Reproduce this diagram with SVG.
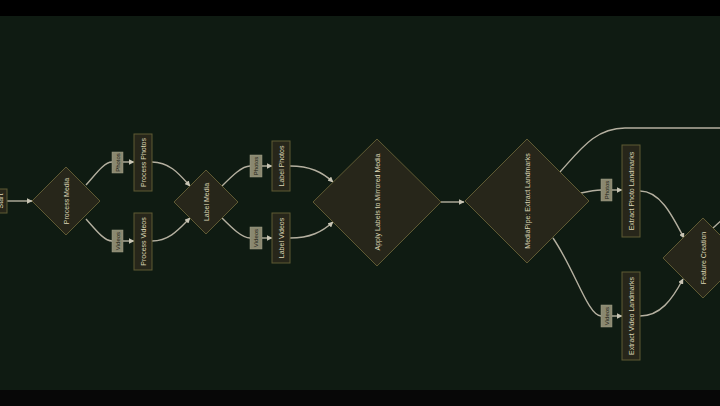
<svg xmlns="http://www.w3.org/2000/svg" width="720" height="406" viewBox="0 0 720 406">
<defs>
<style>
.node{fill:#27261a;stroke:#5f5a33;stroke-width:1}
.nt{font-family:"Liberation Sans",Arial,sans-serif;font-size:7px;fill:#ddd6b6;text-anchor:middle;dominant-baseline:central}
.lb{fill:#8a8870;stroke:#a09e86;stroke-width:0.5}
.lt{font-family:"Liberation Sans",Arial,sans-serif;font-size:6px;fill:#1c1c14;text-anchor:middle;dominant-baseline:central}
.edge{fill:none;stroke:#b5b0a0;stroke-width:1.4}
</style>
<marker id="arr" viewBox="0 0 10 10" refX="9" refY="5" markerWidth="4" markerHeight="4" orient="auto"><path d="M0,0L10,5L0,10z" fill="#c8c4b4"/></marker>
</defs>
<rect width="720" height="406" fill="#0f1b12"/>
<rect width="720" height="16" fill="#000"/>
<rect y="390" width="720" height="16" fill="#070707"/>

<g id="connectors">
<path class="edge" d="M7,201 L32,201" marker-end="url(#arr)"/>
<path class="edge" d="M86,185 C95,175 104,162 112,162"/>
<path class="edge" d="M123,162 L134,162" marker-end="url(#arr)"/>
<path class="edge" d="M86,219 C95,229 104,241 112,241"/>
<path class="edge" d="M123,241 L134,241" marker-end="url(#arr)"/>
<path class="edge" d="M152,162 C170,162 180,175 190,186" marker-end="url(#arr)"/>
<path class="edge" d="M152,241 C170,241 180,228 190,218" marker-end="url(#arr)"/>
<path class="edge" d="M222,186 C232,176 242,166 250,166"/>
<path class="edge" d="M262,166 L272,166" marker-end="url(#arr)"/>
<path class="edge" d="M222,218 C232,228 242,238 250,238"/>
<path class="edge" d="M262,238 L272,238" marker-end="url(#arr)"/>
<path class="edge" d="M290,166 C310,166 322,172 333,182" marker-end="url(#arr)"/>
<path class="edge" d="M290,238 C310,238 322,232 333,222" marker-end="url(#arr)"/>
<path class="edge" d="M440,202 L464,202" marker-end="url(#arr)"/>
<path class="edge" d="M560,172 C580,150 595,128 625,128 L722,128"/>
<path class="edge" d="M581,193 C590,191 595,190 601,190"/>
<path class="edge" d="M612,190 L622,190" marker-end="url(#arr)"/>
<path class="edge" d="M553,238 C575,270 588,316 601,316"/>
<path class="edge" d="M612,316 L622,316" marker-end="url(#arr)"/>
<path class="edge" d="M640,191 C660,191 672,215 684,238" marker-end="url(#arr)"/>
<path class="edge" d="M640,316 C660,316 672,300 683,279" marker-end="url(#arr)"/>
<path class="edge" d="M713,228 L724,218"/>
</g>

<g id="labels">
<g><rect class="lb" x="112" y="152" width="11" height="21"/><text class="lt" transform="translate(117.5,162.5) rotate(-90)">Photos</text></g>
<g><rect class="lb" x="112" y="230" width="11" height="22"/><text class="lt" transform="translate(117.5,241) rotate(-90)">Videos</text></g>
<g><rect class="lb" x="250" y="155" width="12" height="22"/><text class="lt" transform="translate(256,166) rotate(-90)">Photos</text></g>
<g><rect class="lb" x="250" y="227" width="12" height="22"/><text class="lt" transform="translate(256,238) rotate(-90)">Videos</text></g>
<g><rect class="lb" x="601" y="179" width="11" height="22"/><text class="lt" transform="translate(606.5,190) rotate(-90)">Photos</text></g>
<g><rect class="lb" x="601" y="305" width="11" height="22"/><text class="lt" transform="translate(606.5,316) rotate(-90)">Videos</text></g>
</g>

<g id="start"><rect class="node" x="-11" y="189" width="18" height="24"/><text class="nt" transform="translate(0,201) rotate(-90)">Start</text></g>
<g id="process-media"><polygon class="node" points="66,167 100,201 66,235 32,201"/><text class="nt" transform="translate(66,201) rotate(-90)">Process Media</text></g>
<g id="process-photos"><rect class="node" x="134" y="134" width="18" height="57"/><text class="nt" transform="translate(143,162.5) rotate(-90)">Process Photos</text></g>
<g id="process-videos"><rect class="node" x="134" y="213" width="18" height="57"/><text class="nt" transform="translate(143,241.5) rotate(-90)">Process Videos</text></g>
<g id="label-media"><polygon class="node" points="206,170 238,202 206,234 174,202"/><text class="nt" transform="translate(206,202) rotate(-90)">Label Media</text></g>
<g id="label-photos"><rect class="node" x="272" y="141" width="18" height="50"/><text class="nt" transform="translate(281,166) rotate(-90)">Label Photos</text></g>
<g id="label-videos"><rect class="node" x="272" y="213" width="18" height="50"/><text class="nt" transform="translate(281,238) rotate(-90)">Label Videos</text></g>
<g id="apply-labels"><polygon class="node" points="377,139 441,202 377,266 313,202"/><text class="nt" transform="translate(377,202) rotate(-90)">Apply Labels to Mirrored Media</text></g>
<g id="extract-landmarks"><polygon class="node" points="527,139 589,201 527,263 465,201"/><text class="nt" transform="translate(527,201) rotate(-90)">MediaPipe: Extract Landmarks</text></g>
<g id="extract-photo"><rect class="node" x="622" y="145" width="18" height="92"/><text class="nt" transform="translate(631,191) rotate(-90)">Extract Photo Landmarks</text></g>
<g id="extract-video"><rect class="node" x="622" y="272" width="18" height="88"/><text class="nt" transform="translate(631,316) rotate(-90)">Extract Video Landmarks</text></g>
<g id="feature-creation"><polygon class="node" points="703,218 743,258 703,298 663,258"/><text class="nt" transform="translate(703,258) rotate(-90)">Feature Creation</text></g>
</svg>
